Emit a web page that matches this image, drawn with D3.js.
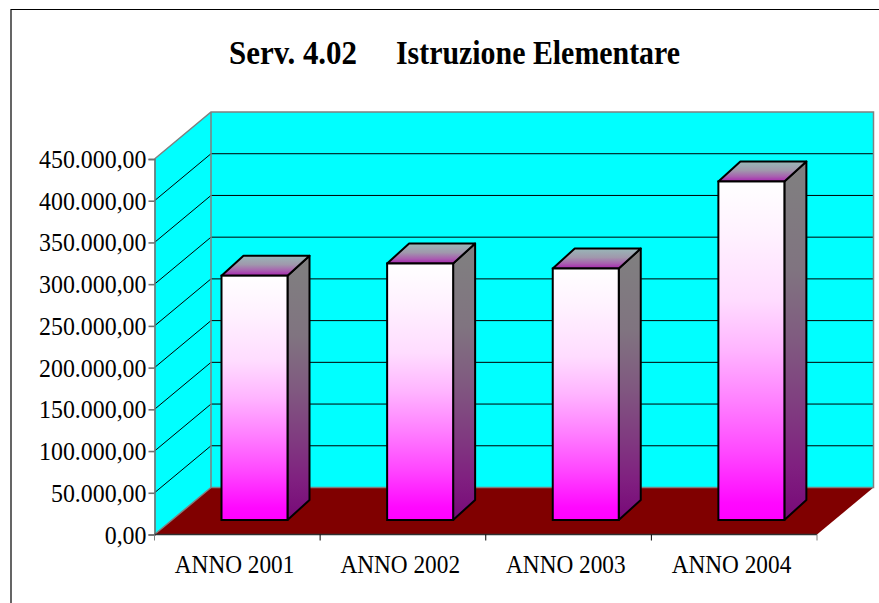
<!DOCTYPE html>
<html><head><meta charset="utf-8">
<script src="https://d3js.org/d3.v7.min.js"></script>
<style>html,body{margin:0;padding:0;background:#fff}svg{display:block}text{font-family:"Liberation Serif",serif;fill:#000}</style>
</head><body><div id="c"></div>
<script>
const categories = ["ANNO 2001","ANNO 2002","ANNO 2003","ANNO 2004"];
const values = [292800,307400,301400,405700];
const yTicks = [0,50000,100000,150000,200000,250000,300000,350000,400000,450000];
const titleLeft = "Serv. 4.02";
const titleRight = "Istruzione Elementare";
const fmt = d3.formatLocale({decimal:",",thousands:".",grouping:[3],currency:["",""]}).format(",.2f");

const W=879,H=603;
const svg=d3.select("#c").append("svg").attr("width",W).attr("height",H);
const defs=svg.append("defs");
function grad(id,stops){
  const g=defs.append("linearGradient").attr("id",id).attr("x1",0).attr("y1",0).attr("x2",0).attr("y2",1);
  stops.forEach(s=>g.append("stop").attr("offset",s[0]).attr("stop-color",s[1]));
}
grad("front",[[0,"#ffffff"],[0.15,"#fff2ff"],[0.35,"#ffdcff"],[0.5,"#ffb4ff"],[0.65,"#ff80ff"],[0.8,"#ff48ff"],[0.95,"#ff08ff"],[1,"#ff00ff"]]);
grad("side",[[0,"#808080"],[0.3,"#807480"],[0.5,"#805a80"],[0.7,"#803a80"],[0.85,"#802080"],[1,"#780878"]]);
grad("top",[[0,"#98b8b8"],[0.45,"#a098ac"],[0.75,"#a860b0"],[1,"#a824b0"]]);

function squeeze(sel,k){
  sel.each(function(){
    const n=this.getComputedTextLength();
    d3.select(this).attr("textLength",n*k).attr("lengthAdjust","spacingAndGlyphs");
  });
}

// frame
svg.append("path").attr("d","M11,603V9.5H879").attr("fill","none").attr("stroke","#000").attr("stroke-width",1.2);

const x=d3.scaleBand().domain(categories).range([154.5,817]);
const y=d3.scaleLinear().domain([0,450000]).range([534.5,159]);
const dx=56.5,dy=-47;
const X0=154.5,X1=817,Y0=y(0),Y1=y(450000);

// walls
svg.append("path").attr("d",`M${X0},${Y0}L${X0+dx},${Y0+dy}V${Y1+dy}L${X0},${Y1}Z`).attr("fill","#00ffff");
svg.append("rect").attr("x",X0+dx).attr("y",Y1+dy).attr("width",X1-X0).attr("height",Y0-Y1).attr("fill","#00ffff");
// floor
svg.append("path").attr("d",`M${X0},${Y0}L${X0+dx},${Y0+dy}H${X1+dx}L${X1},${Y0}Z`).attr("fill","#800000");

// gridlines
yTicks.slice(1,-1).forEach(t=>{
  svg.append("path").attr("d",`M${X0},${y(t)}L${X0+dx},${y(t)+dy}H${X1+dx}`).attr("fill","none").attr("stroke","#000").attr("stroke-width",1);
});
// wall outlines
svg.append("path").attr("d",`M${X0},${Y1}L${X0+dx},${Y1+dy}H${X1+dx}V${Y0+dy}H${X0+dx}V${Y1+dy}M${X0+dx},${Y0+dy}L${X0},${Y0}`)
  .attr("fill","none").attr("stroke","#808080").attr("stroke-width",1.5);

// axes
const gy=svg.append("g").attr("transform",`translate(${X0},0)`)
  .call(d3.axisLeft(y).tickValues(yTicks).tickFormat(fmt).tickSize(6).tickPadding(2));
gy.selectAll("line,path").attr("stroke","#707070").attr("stroke-width",1.6);
gy.selectAll("text").attr("font-size",24.5).attr("font-family","Liberation Serif").attr("dy",8.5).call(squeeze,0.975);

const gx=svg.append("g").attr("transform",`translate(0,${Y0})`);
gx.append("path").attr("d",`M${X0},0H${X1}`).attr("stroke","#303030").attr("stroke-width",1.4);
[...categories.map(c=>x(c)),X1].forEach((p,i)=>{
  gx.append("line").attr("x1",p).attr("x2",p).attr("y1",0).attr("y2",6)
    .attr("stroke",(i===0||i===categories.length)?"#808080":"#000").attr("stroke-width",1);
});
gx.selectAll("text").data(categories).join("text")
  .attr("x",c=>x(c)+x.bandwidth()/2-2.7).attr("y",38.5).attr("text-anchor","middle").attr("font-size",24.5).text(c=>c).call(squeeze,0.95);

// bars
const bw=66,off=67,lift=14.5,bdx=22,bdy=-20;
const bars=svg.selectAll("g.bar").data(categories).join("g").attr("class","bar");
const lw=2;
bars.each(function(c,i){
  const g=d3.select(this),l=x(c)+off,r=l+bw,t=y(values[i])-lift,b=y(0)-lift;
  g.append("path").attr("d",`M${r},${b}L${r+bdx},${b+bdy}V${t+bdy}L${r},${t}Z`).attr("fill","url(#side)").attr("stroke","#000").attr("stroke-width",lw).attr("stroke-linejoin","round");
  g.append("path").attr("d",`M${l},${t}L${l+bdx},${t+bdy}H${r+bdx}L${r},${t}Z`).attr("fill","url(#top)").attr("stroke","#000").attr("stroke-width",lw).attr("stroke-linejoin","round");
  g.append("rect").attr("x",l).attr("y",t).attr("width",bw).attr("height",b-t).attr("fill","url(#front)").attr("stroke","#000").attr("stroke-width",lw);
});

// title
const tt=svg.append("g").attr("font-weight","bold").attr("font-size",33);
tt.append("text").attr("x",229).attr("y",64).text(titleLeft).attr("textLength",128).attr("lengthAdjust","spacingAndGlyphs");
tt.append("text").attr("x",396).attr("y",64).text(titleRight).attr("textLength",284).attr("lengthAdjust","spacingAndGlyphs");
</script></body></html>
